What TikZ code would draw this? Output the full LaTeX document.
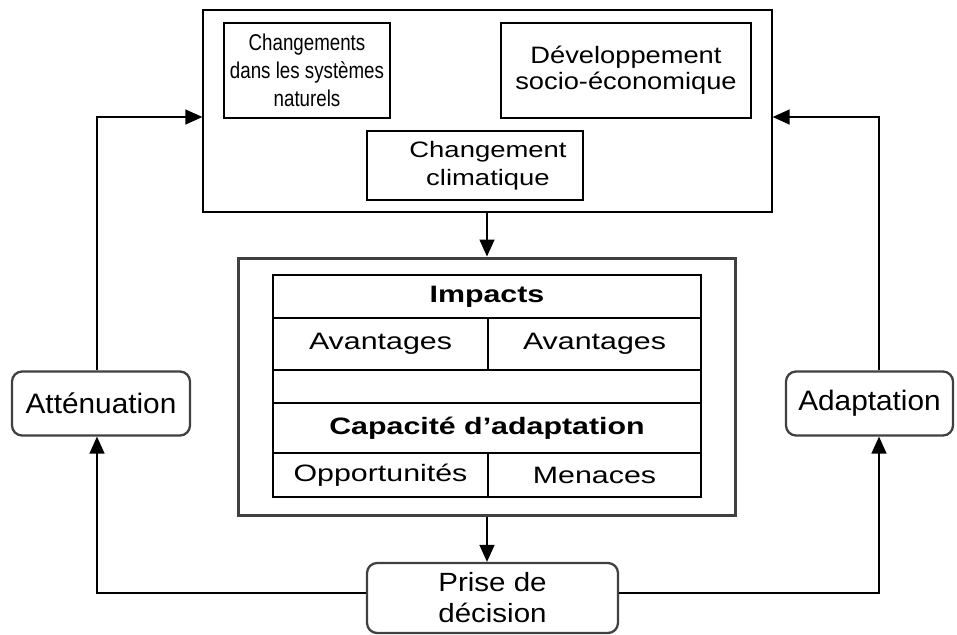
\documentclass[tikz,border=0pt]{standalone}
\usepackage{fontspec}
\setmainfont{Liberation Sans}[FakeStretch=1.28]
\newfontfamily\natfont{Liberation Sans}[FakeStretch=0.82]
\newfontfamily\devfont{Liberation Sans}[FakeStretch=1.15]
\newfontfamily\climfont{Liberation Sans}[FakeStretch=1.23]
\newfontfamily\actfont{Liberation Sans}[FakeStretch=1.06]
\newfontfamily\decfont{Liberation Sans}[FakeStretch=1.12]
\usetikzlibrary{arrows.meta, positioning}
\definecolor{rimgray}{HTML}{404040}

\begin{document}
\begin{tikzpicture}[
    x=0.02cm, y=-0.02cm,
    >={Triangle[length=0.34cm, width=0.3cm]},
    line width=0.8pt,
    font=\fontsize{13.5}{16}\selectfont,
    box/.style={draw, align=center, inner sep=0pt},
    cell/.style={draw, align=center, inner sep=0pt, outer sep=0pt},
    frame/.style={draw=rimgray, line width=1.7pt},
    action/.style={draw=rimgray, line width=1.3pt, rounded corners=0.2cm, align=center, minimum height=1.28cm,
                   font=\actfont\fontsize{16}{18}\selectfont}
  ]
  \useasboundingbox (0,0) rectangle (957,635);

  % --- CONTEXTE ---
  \node[box, minimum width=11.38cm, minimum height=4.04cm] (ctx) at (487.5,111) {};
  \node[box, minimum width=3.32cm, minimum height=1.9cm, font=\natfont\fontsize{13}{16}\selectfont] (nat) at (307,70.5)
       {Changements\\dans les systèmes\\naturels};
  \node[box, minimum width=5.0cm, minimum height=1.9cm, font=\devfont\fontsize{13.5}{14.8}\selectfont] (dev) at (626,70.5)
       {Développement\\socio-économique};
  % texte un peu decale vers la droite, comme sur l'original
  \node[box, minimum width=4.32cm, minimum height=1.38cm, font=\climfont\fontsize{12.7}{16}\selectfont] (clim) at (475,165.5)
       {\hspace*{0.52cm}Changement\\\hspace*{0.52cm}climatique};

  % --- IMPACTS ---
  \node[frame, minimum width=9.96cm, minimum height=5.16cm] (mid) at (487,387) {};
  \node[cell, minimum width=8.56cm, minimum height=0.86cm] (imp) at (487,296.5) {\bfseries Impacts};
  \node[cell, minimum width=4.30cm, minimum height=1.04cm] (avl) at (380.5,344) {Avantages};
  \node[cell, minimum width=4.26cm, minimum height=1.04cm] (avr) at (594.5,344) {Avantages};
  \node[cell, minimum width=8.56cm, minimum height=0.66cm] (gap) at (487,386.5) {};
  \node[cell, minimum width=8.56cm, minimum height=1.00cm] (cap) at (487,428) {\bfseries Capacité d’adaptation};
  \node[cell, minimum width=4.30cm, minimum height=0.88cm] (opp) at (380.5,475) {Opportunités};
  \node[cell, minimum width=4.26cm, minimum height=0.88cm] (men) at (594.5,475) {Menaces};

  % --- ACTIONS ---
  \node[action, minimum width=5.02cm, minimum height=1.4cm, font=\decfont\fontsize{15}{17.6}\selectfont] (dec) at (492.5,598) {Prise de\\décision};
  \node[action, minimum width=3.56cm] (att) at (101,403.5) {Atténuation};
  \node[action, minimum width=3.34cm] (ada) at (869.5,403.5) {Adaptation};

  \coordinate (lftlow) at (97,593);
  \coordinate (lfttop) at (97,117);
  \coordinate (rgtlow) at (879,593);
  \coordinate (rgttop) at (879,117);

  % --- FLECHES ---
  \draw[->] (mid.north |- ctx.south) -- (mid.north);
  \draw[->] (mid.south) -- (mid.south |- dec.north);
  \draw[->] (dec.west |- lftlow) -- (lftlow) -- (lftlow |- att.south);
  \draw[->] (lfttop |- att.north) -- (lfttop) -- (ctx.west |- lfttop);
  \draw[->] (dec.east |- rgtlow) -- (rgtlow) -- (rgtlow |- ada.south);
  \draw[->] (rgttop |- ada.north) -- (rgttop) -- (ctx.east |- rgttop);

\end{tikzpicture}
\end{document}
